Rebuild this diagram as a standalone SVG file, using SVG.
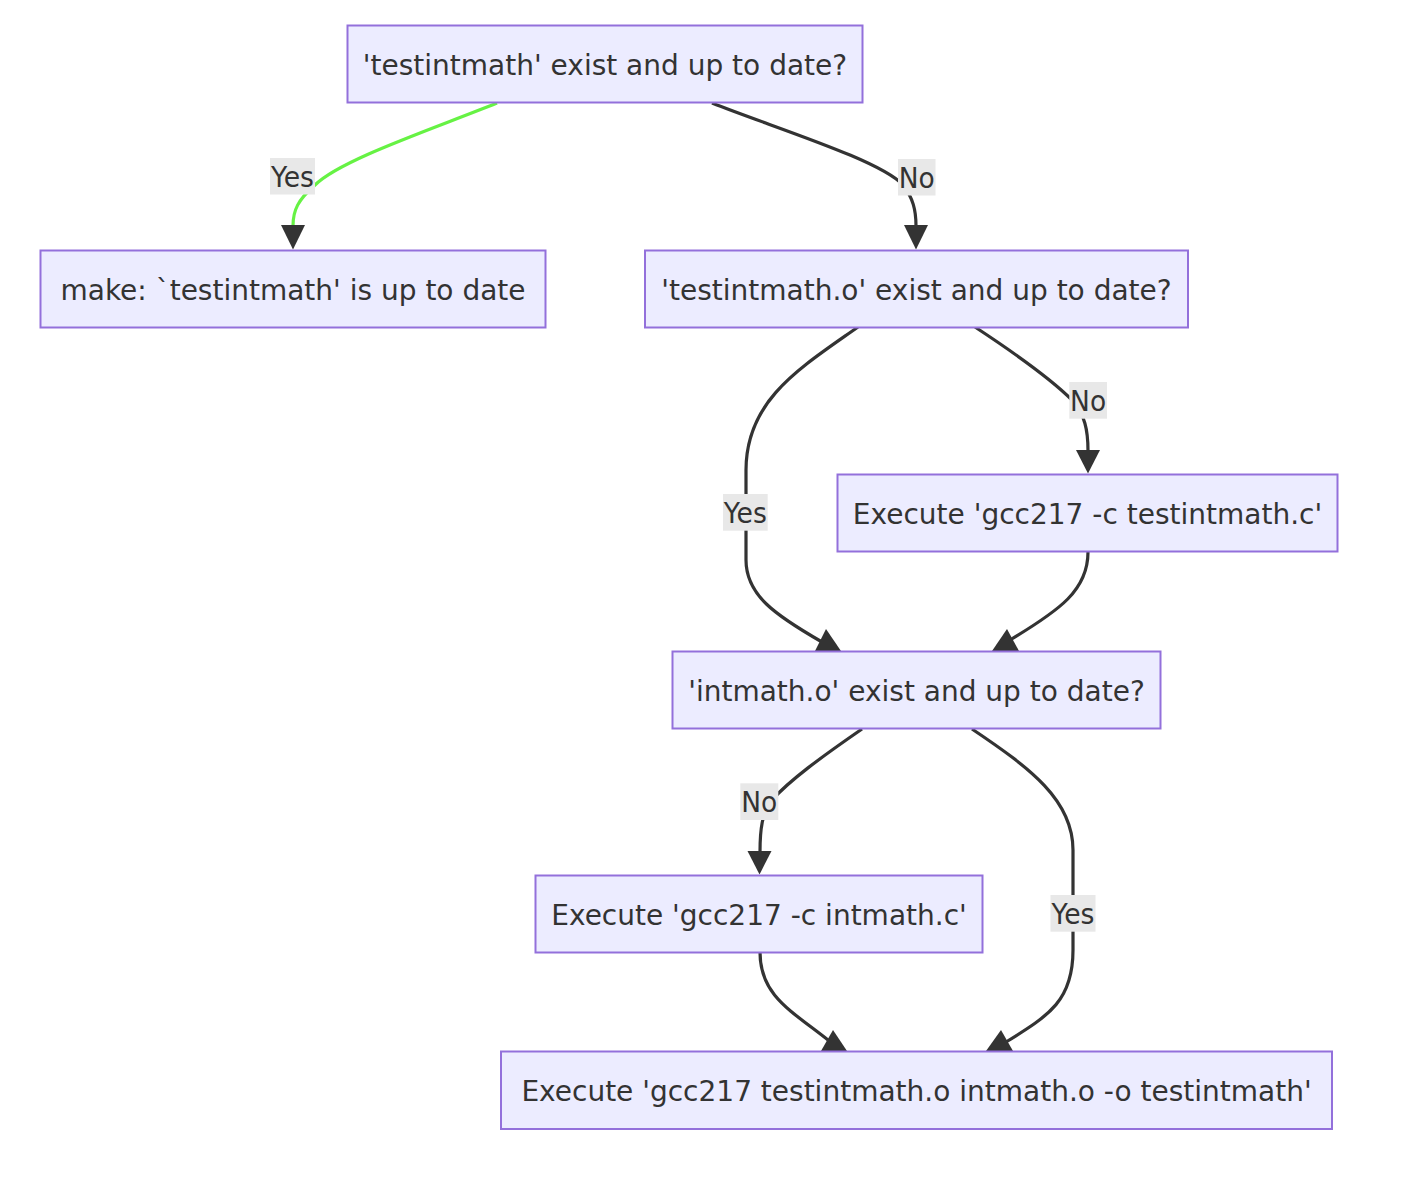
<svg xmlns="http://www.w3.org/2000/svg" width="1402" height="1190" viewBox="0 0 1402 1190">
<style>
.bg{fill:#ffffff}
.node rect{fill:#ECECFF;stroke:#9370DB;stroke-width:2}
.node text{font-family:"DejaVu Sans","Liberation Sans",sans-serif;font-size:28px;fill:#333333;text-anchor:middle}
.edge{fill:none;stroke:#333333;stroke-width:3.2;stroke-linecap:butt}
.edge.green{stroke:#66f244}
.head{fill:#333333}
.lbl rect{fill:#e8e8e8}
.lbl text{font-family:"DejaVu Sans","Liberation Sans",sans-serif;font-size:28px;fill:#333333;text-anchor:middle}
</style>
<rect class="bg" x="0" y="0" width="1402" height="1190"/>
<g id="connectors">
  <path class="edge green" d="M497,103 C430,130 340,160 315,185 C298,200 293,210 293,226"/>
  <polygon class="head" points="281,225 305,225 293,249.5"/>
  <path class="edge" d="M712,103 C775,128 880,160 903,185 C913,198 916,210 916,226"/>
  <polygon class="head" points="904,225 928,225 916,249.5"/>
  <path class="edge" d="M975,327 C1010,350 1050,378 1072,400 C1085,415 1088,430 1088,451"/>
  <polygon class="head" points="1076,450 1100,450 1088,473.5"/>
  <path class="edge" d="M858,327 C800,368 746,400 746,470 L746,560 C746,595 775,615 822,642"/>
  <polygon class="head" points="815,651 826,629 841,651"/>
  <path class="edge" d="M1088,552 C1088,590 1060,610 1010,640"/>
  <polygon class="head" points="992,651 1007,629 1019,651"/>
  <path class="edge" d="M862,729 C820,758 790,780 772,800 C762,812 760,830 760,852"/>
  <polygon class="head" points="747.5,851 771.5,851 759.5,874.5"/>
  <path class="edge" d="M972,729 C1030,768 1073,800 1073,850 L1073,950 C1073,1000 1050,1015 1006,1042"/>
  <polygon class="head" points="986,1051 1001,1030 1013,1051"/>
  <path class="edge" d="M760,952 C760,995 790,1010 828,1040"/>
  <polygon class="head" points="821,1051 833,1030 847,1051"/>
</g>
<g id="edge-labels">
  <g class="lbl" id="lbl-a-b"><rect x="270" y="158" width="45" height="36.5"/><text x="292.5" y="186.5" textLength="43" lengthAdjust="spacingAndGlyphs">Yes</text></g>
  <g class="lbl" id="lbl-a-c"><rect x="898" y="159" width="37.5" height="36.5"/><text x="916.7" y="187.5" textLength="36" lengthAdjust="spacingAndGlyphs">No</text></g>
  <g class="lbl" id="lbl-c-d"><rect x="1069.3" y="382" width="37.7" height="36.7"/><text x="1088.1" y="410.5" textLength="36" lengthAdjust="spacingAndGlyphs">No</text></g>
  <g class="lbl" id="lbl-c-e"><rect x="723" y="494" width="44.7" height="36.7"/><text x="745.3" y="522.5" textLength="43" lengthAdjust="spacingAndGlyphs">Yes</text></g>
  <g class="lbl" id="lbl-e-f"><rect x="740.3" y="783.3" width="38" height="36.7"/><text x="759.3" y="811.8" textLength="36" lengthAdjust="spacingAndGlyphs">No</text></g>
  <g class="lbl" id="lbl-e-g"><rect x="1050.5" y="895" width="45" height="36.7"/><text x="1073" y="923.5" textLength="43" lengthAdjust="spacingAndGlyphs">Yes</text></g>
</g>
<g class="node" id="node-testintmath"><rect x="347.5" y="25.5" width="515" height="77"/><text x="605" y="74.5">'testintmath' exist and up to date?</text></g>
<g class="node" id="node-uptodate"><rect x="40.5" y="250.5" width="505" height="77"/><text x="293" y="299.5">make: `testintmath' is up to date</text></g>
<g class="node" id="node-testintmath-o"><rect x="645" y="250.5" width="543" height="77"/><text x="916.5" y="299.5">'testintmath.o' exist and up to date?</text></g>
<g class="node" id="node-compile-test"><rect x="837.5" y="474.5" width="500" height="77"/><text x="1087.5" y="523.5">Execute 'gcc217 -c testintmath.c'</text></g>
<g class="node" id="node-intmath-o"><rect x="672.5" y="651.5" width="488" height="77"/><text x="916.5" y="700.5">'intmath.o' exist and up to date?</text></g>
<g class="node" id="node-compile-intmath"><rect x="535.5" y="875.5" width="447" height="77"/><text x="759" y="924.5">Execute 'gcc217 -c intmath.c'</text></g>
<g class="node" id="node-link"><rect x="501" y="1051.5" width="831" height="77.5"/><text x="916.5" y="1100.5">Execute 'gcc217 testintmath.o intmath.o -o testintmath'</text></g>
</svg>
